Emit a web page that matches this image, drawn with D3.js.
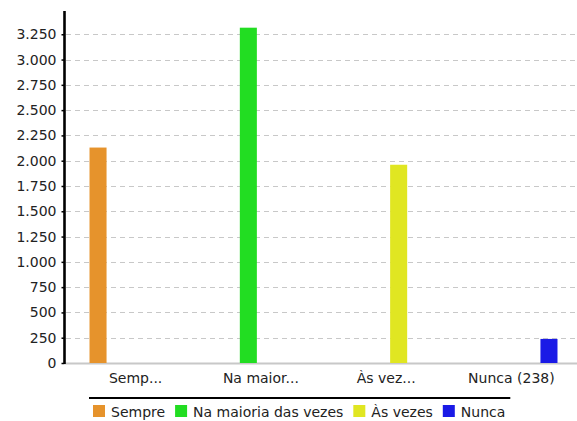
<!DOCTYPE html>
<html><head><meta charset="utf-8">
<script src="https://cdn.jsdelivr.net/npm/d3@7/dist/d3.min.js"></script>
<style>
html,body{margin:0;padding:0;background:#fff;}
svg{display:block;font-family:"DejaVu Sans",sans-serif;}
</style></head>
<body><svg id="c" width="577" height="421"></svg>
<script>
const categories = ["Semp...", "Na maior...", "Às vez...", "Nunca (238)"];
const series = ["Sempre", "Na maioria das vezes", "Às vezes", "Nunca"];
const colors = ["#e6932c", "#22dd22", "#e0e622", "#1a1ae6"];
// values[series][category]
const values = [
  [2130, 0, 0, 0],
  [0, 3315, 0, 0],
  [0, 0, 1960, 0],
  [0, 0, 0, 238]
];
const yTicks = [0, 250, 500, 750, 1000, 1250, 1500, 1750, 2000, 2250, 2500, 2750, 3000, 3250];

(function () {
const svg = d3.select("#c");
const pLeft = 65, pRight = 577, pTop = 11, pBottom = 363;
const FS = 14;
const loc = d3.formatLocale({decimal: ",", thousands: ".", grouping: [3], currency: ["", ""]});
const fmt = loc.format(",d");

const y = d3.scaleLinear().domain([0, 3480]).range([pBottom, pTop]);
const x0 = d3.scaleBand().domain(categories).range([73, 574]);
const x1 = d3.scaleBand().domain(series).range([12.5, x0.bandwidth() - 12.5]).paddingInner(0.32).paddingOuter(0.16);

// grid
svg.append("g").selectAll("line").data(yTicks.filter(d => d > 0)).join("line")
  .attr("x1", pLeft + 1).attr("x2", pRight)
  .attr("y1", d => Math.round(y(d)) + 0.5).attr("y2", d => Math.round(y(d)) + 0.5)
  .attr("stroke", "#c8c8c8").attr("stroke-width", 1.2).attr("stroke-dasharray", "5,4");

// baseline
svg.append("line").attr("x1", pLeft).attr("x2", pRight).attr("y1", pBottom + 0.5).attr("y2", pBottom + 0.5)
  .attr("stroke", "#c8c8c8").attr("stroke-width", 2);

// bars
const rows = [];
series.forEach((s, i) => categories.forEach((c, j) => {
  if (values[i][j] > 0) rows.push({s, c, v: values[i][j], col: colors[i]});
}));
svg.append("g").selectAll("rect").data(rows).join("rect")
  .attr("x", d => x0(d.c) + x1(d.s))
  .attr("width", x1.bandwidth())
  .attr("y", d => y(d.v))
  .attr("height", d => pBottom - y(d.v))
  .attr("fill", d => d.col);

// y axis
const yAxis = d3.axisLeft(y).tickValues(yTicks).tickFormat(fmt).tickSize(3).tickPadding(5);
const ga = svg.append("g").attr("transform", `translate(${pLeft - 0.5},0)`).call(yAxis);
ga.select(".domain").attr("stroke", "#000").attr("stroke-width", 2.6).attr("d", `M0,${pTop}V${pBottom + 1}`);
ga.selectAll(".tick line").attr("stroke", "#000").attr("stroke-width", 1.5);
ga.selectAll(".tick text").attr("font-size", FS).attr("fill", "#222").attr("font-family", "DejaVu Sans");

// x labels
svg.append("g").selectAll("text").data(categories).join("text")
  .attr("x", d => x0(d) + x0.bandwidth() / 2)
  .attr("y", 383)
  .attr("text-anchor", "middle")
  .attr("font-size", FS).attr("fill", "#222")
  .text(d => d);

// legend
const lg = svg.append("g");
let lx = 93;
series.forEach((s, i) => {
  lg.append("rect").attr("x", lx).attr("y", 405).attr("width", 12).attr("height", 12).attr("fill", colors[i]);
  const t = lg.append("text").attr("x", lx + 18).attr("y", 417).attr("font-size", FS).attr("fill", "#222").text(s);
  lx += 18 + t.node().getComputedTextLength() + 10;
});
svg.append("line").attr("x1", 89).attr("x2", lx - 5).attr("y1", 398).attr("y2", 398)
  .attr("stroke", "#000").attr("stroke-width", 2);
})();
</script>
</body></html>
